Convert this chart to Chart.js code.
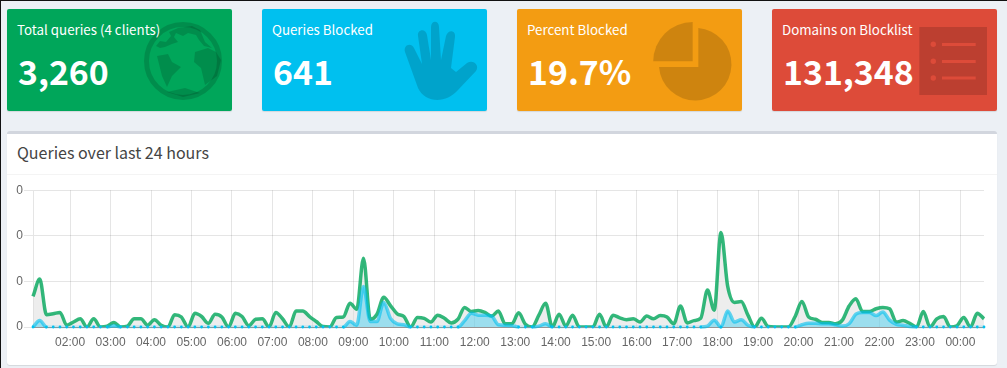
<!DOCTYPE html>
<html><head><meta charset="utf-8">
<script src="https://cdn.jsdelivr.net/npm/chart.js@4"></script>
<style>
html,body{margin:0;padding:0;background:#ecf0f5;width:1007px;height:368px;overflow:hidden;font-family:"Noto Sans CJK SC",sans-serif}
.edge{position:absolute;background:#111}
.box{position:absolute;top:9px;width:225px;height:102px;border-radius:2px;color:#fff;box-shadow:0 1px 1px rgba(0,0,0,.1)}
.lab{position:absolute;left:10px;top:11px;font-size:13.33px;line-height:20px;white-space:nowrap;z-index:2}
.num{position:absolute;left:11px;top:39px;font-size:33.8px;font-weight:700;line-height:46px;white-space:nowrap;z-index:2}
svg.ic{position:absolute;left:0;top:0;z-index:1}
.card{position:absolute;left:7px;top:131px;width:990px;height:231px;background:#fff;border-top:3px solid #d2d6de;border-radius:3px;box-shadow:0 1px 1px rgba(0,0,0,.1)}
.head{position:absolute;left:0;top:0;width:990px;height:40px;border-bottom:1px solid #f4f4f4}
.title{position:absolute;left:10px;top:6px;font-size:16px;line-height:24px;color:#444;white-space:nowrap}
#wrap{position:absolute;left:7px;top:182px;width:990px;height:178px}
</style></head><body>
<div class="edge" style="left:0;top:0;width:1007px;height:1px"></div>
<div class="edge" style="left:0;top:0;width:1px;height:368px"></div>
<div class="box" style="left:7px;background:#00a65a"></div>
<div class="box" style="left:262px;background:#00c0ef"></div>
<div class="box" style="left:517px;background:#f39c12"></div>
<div class="box" style="left:772px;background:#dd4b39"></div>
<svg class="ic" width="1007" height="130" viewBox="0 0 1007 130">
 <g fill="rgba(0,0,0,.15)">
  <circle cx="183" cy="61" r="36.5" fill="none" stroke="rgba(0,0,0,.15)" stroke-width="5"/>
  <path d="M156 46 L160 41 L166 42 L171 36 L169 32 L178 28 L192 26 L200 30 L205 42 L212 48 L204 46 L199 40 L196 35 L188 33 L183 36 L176 33 L174 37 L178 42 L172 44 L165 47 L160 48Z"/>
  <path d="M157 56 L168 54 L172 62 L181 67 L172 76 L167 87 L162 76 L159 64Z"/>
  <path d="M195 52 L208 48 L216 52 L221 60 L217 76 L205 85 L201 68 L194 62Z"/>
  <path d="M167 92 L185 88 L200 93 L183 97Z"/>
  <path d="M418 88 L405 52 C403 45 411 42 414 48 L422 64 L418 36 C417 29 426 28 427 35 L431 60 L431 27 C431 20 439 20 439 27 L441 60 L446 36 C448 29 456 30 455 37 L451 68 L456 72 L467 63 C473 59 480 65 476 71 L458 90 C446 104 425 103 418 88Z"/>
  <path d="M692.7 22 V61.3 H653.2 A39.5 39.5 0 0 1 692.7 22Z"/>
  <path d="M698.3 28 V67 H659 A36.3 36.3 0 1 0 698.3 28Z"/>
  <rect x="919.3" y="27" width="67.7" height="68"/>
 </g>
 <g fill="#dd4b39">
  <circle cx="933.3" cy="44.3" r="2.7"/><circle cx="933.3" cy="61.3" r="2.7"/><circle cx="933.3" cy="78" r="2.7"/>
  <rect x="942" y="43" width="33.7" height="3"/><rect x="942" y="60" width="33.7" height="3"/><rect x="942" y="76.5" width="33.7" height="3"/>
 </g>
</svg>
<div class="box" style="left:7px;background:none;box-shadow:none;z-index:2"><div class="lab">Total queries (4 clients)</div><div class="num">3,260</div></div>
<div class="box" style="left:262px;background:none;box-shadow:none;z-index:2"><div class="lab">Queries Blocked</div><div class="num">641</div></div>
<div class="box" style="left:517px;background:none;box-shadow:none;z-index:2"><div class="lab">Percent Blocked</div><div class="num">19.7%</div></div>
<div class="box" style="left:772px;background:none;box-shadow:none;z-index:2"><div class="lab">Domains on Blocklist</div><div class="num">131,348</div></div>
<div class="card"><div class="head"><div class="title">Queries over last 24 hours</div></div></div>
<div id="wrap"><canvas id="c" width="990" height="178"></canvas></div>
<script>
const yTickLabels=['0','0','0','0'];
const startMinute=65;
const stepMinutes=10;
const totalQueries=[67,105,27,29,32,4,11,18,0,18,0,2,10,0,2,18,18,4,16,4,0,27,22,0,30,23,8,28,22,0,30,23,3,17,18,0,32,18,0,35,35,23,12,1,0,21,22,52,39,151,17,28,65,47,29,23,0,21,19,11,26,19,9,17,43,34,36,32,24,35,7,7,31,6,0,26,52,0,28,2,26,0,0,0,28,0,26,20,16,18,11,24,18,25,22,7,46,9,14,19,81,37,207,89,54,56,26,0,19,1,0,0,0,23,56,22,17,10,10,7,15,46,62,34,34,40,43,40,11,14,8,0,34,0,18,23,0,3,21,0,30,18];
const blockedQueries=[0,14,0,0,0,0,0,0,0,0,0,0,3,0,0,0,0,0,0,0,0,0,0,0,0,0,0,0,0,0,0,0,0,0,0,0,0,0,0,0,0,0,0,0,0,0,0,12,4,89,12,12,54,19,7,5,0,0,0,0,0,0,0,0,14,30,26,26,24,5,4,3,0,0,0,2,7,0,0,0,0,0,0,0,0,0,0,0,0,0,0,0,0,0,0,0,0,0,0,0,2,15,0,35,11,16,4,0,0,0,0,0,0,0,5,8,8,7,7,5,2,7,28,32,32,25,33,15,6,4,1,0,0,0,0,0,0,0,0,0,0,0];
const times=totalQueries.map((_,i)=>startMinute+i*stepMinutes);
const pts=a=>a.map((v,i)=>({x:times[i],y:v}));
const fmt=m=>{const h=Math.floor(m/60)%24;return String(h).padStart(2,'0')+':'+String(m%60).padStart(2,'0');};
new Chart(document.getElementById('c'),{
 type:'line',
 data:{datasets:[
  {label:'Total',data:pts(totalQueries),order:2,cubicInterpolationMode:'monotone',fill:'origin',backgroundColor:'rgba(220,220,220,0.5)',borderColor:'rgba(0,166,90,.8)',borderWidth:3.5,pointRadius:0,clip:{left:2,right:2,top:2,bottom:0}},
  {label:'Blocked',data:pts(blockedQueries),order:1,cubicInterpolationMode:'monotone',fill:'origin',backgroundColor:'rgba(0,192,239,0.34)',borderColor:'rgba(0,192,239,0.6)',borderWidth:3.5,pointRadius:c=>c.raw&&c.raw.y===0?1.4:0,pointBackgroundColor:'#00c0ef',pointBorderWidth:0,clip:{left:2,right:2,top:2,bottom:2},
   segment:{borderColor:c=>(c.p0.parsed.y===0&&c.p1.parsed.y===0)?'rgba(0,192,239,0.15)':undefined}}
 ]},
 options:{responsive:false,animation:false,
  layout:{padding:{left:0,right:13,top:0,bottom:0}},
  plugins:{legend:{display:false},tooltip:{enabled:false}},
  scales:{
   x:{type:'linear',min:startMinute,max:times[times.length-1],
    afterFit(s){s.height=33},
    grid:{color:'rgba(0,0,0,.1)',lineWidth:1,drawTicks:false},
    border:{color:'rgba(0,0,0,.35)'},
    ticks:{stepSize:60,includeBounds:false,autoSkip:false,maxRotation:0,padding:8,color:'#666',font:{family:'"Liberation Sans"',size:12},callback:v=>fmt(v)}},
   y:{min:0,max:300,
    afterFit(s){s.width=26},
    grid:{color:'rgba(0,0,0,.1)',tickLength:9},
    border:{color:'rgba(0,0,0,.1)'},
    ticks:{stepSize:100,padding:1,color:'#666',font:{family:'"Liberation Sans"',size:12},callback:(v,i)=>yTickLabels[i]}}
  }
 }
});
</script>
</body></html>
